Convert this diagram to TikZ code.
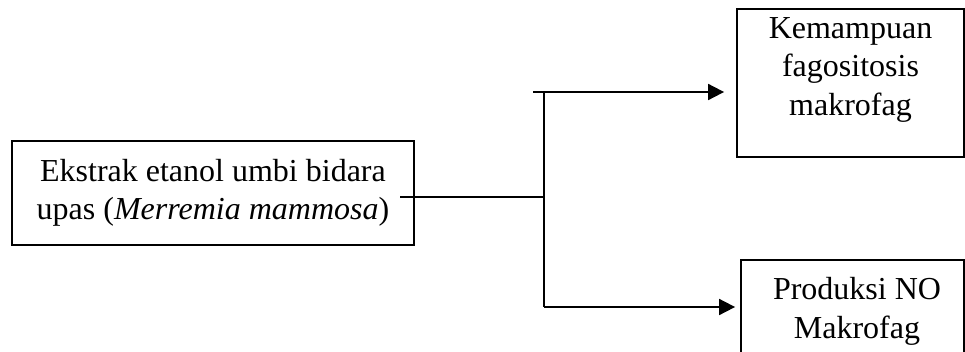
\documentclass[tikz,border=0pt]{standalone}
\usepackage{fontspec}
\setmainfont{Liberation Serif}
\usetikzlibrary{arrows.meta}

\begin{document}
\begin{tikzpicture}[x=1pt,y=-1pt,
  line width=1.8pt,
  box/.style={draw=black, rectangle, inner sep=0pt},
  caption/.style={align=center, inner sep=0pt, font=\fontsize{32}{38.5}\selectfont},
  flow/.style={-{Triangle[length=16pt,width=16pt]}}]

  \useasboundingbox (0,0) rectangle (965,351);
  \clip (0,0) rectangle (965,351);

  % boxes
  \node[box, minimum width=402pt, minimum height=104pt] (src) at (213,193) {};
  \node[box, minimum width=227pt, minimum height=148pt] (kem) at (850.5,83) {};
  \node[box, minimum width=223pt, minimum height=140pt] (prod) at (852.5,330) {};

  % box texts
  \node[caption] (srctext) at (src.center) {Ekstrak etanol umbi bidara\\upas (\textit{Merremia mammosa})};
  \node[caption] (kemtext) at (850.5,69.5) {Kemampuan\\fagositosis\\makrofag};
  \node[caption] (prodtext) at (857,311.5) {Produksi NO\\Makrofag};

  % connector points
  \coordinate (tail) at (400,197);
  \coordinate (junc) at (544,197);
  \coordinate (jtop) at (544,92);
  \coordinate (jbot) at (544,307);
  \coordinate (stub) at (533,92);

  % connectors
  \draw (tail) -- (junc);
  \draw (jtop) -- (jbot);
  \draw[flow, shorten >=12pt] (stub) -- (stub -| kem.west);
  \draw[flow, shorten >=5pt] (jbot) -- (jbot -| prod.west);
\end{tikzpicture}
\end{document}
